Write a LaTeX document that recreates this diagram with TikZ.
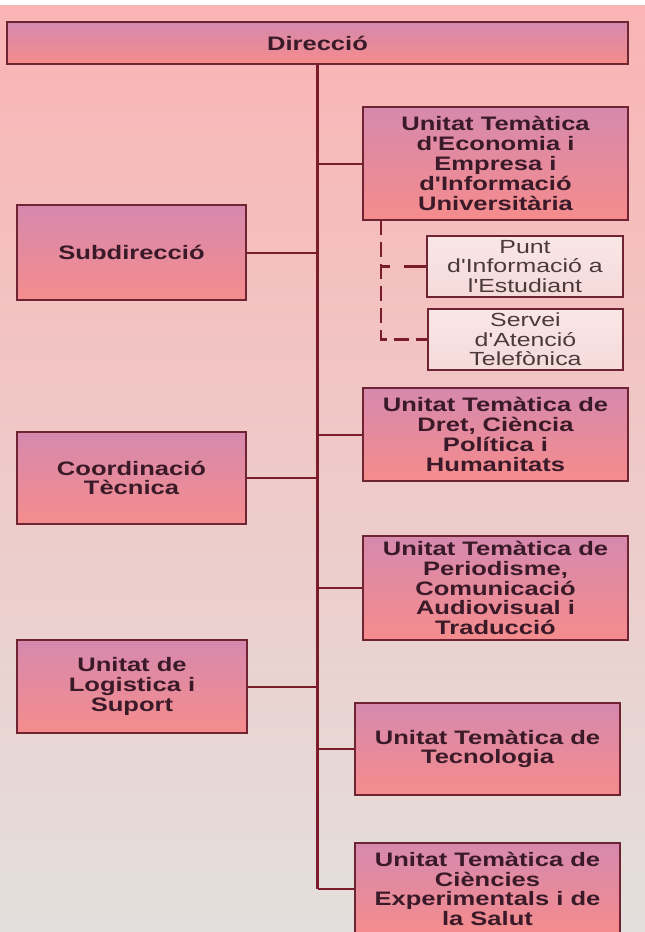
\documentclass[tikz,border=0pt]{standalone}
\usepackage{fontspec}
\setmainfont[FakeStretch=1.31,Ligatures=TeXOff]{Liberation Sans}
\definecolor{bgtop}{HTML}{FAB4B4}
\definecolor{bgmid}{HTML}{F2CBCB}
\definecolor{bgbot}{HTML}{E3DFDC}
\definecolor{boxtop}{HTML}{D689AE}
\definecolor{boxbot}{HTML}{F58C8C}
\definecolor{boxline}{HTML}{6E2433}
\definecolor{linecol}{HTML}{7A1C2A}
\definecolor{txt}{HTML}{3A1A28}
\definecolor{subtxt}{HTML}{4A3A3C}
\definecolor{subtop}{HTML}{FAE6E6}
\definecolor{subbot}{HTML}{F6DADA}
\tikzset{
  orgbox/.style={draw=boxline, line width=1.5pt, top color=boxtop, bottom color=boxbot,
    font=\fontsize{19.5}{19.8}\selectfont\bfseries, text=txt, align=center, inner sep=0pt},
  subbox/.style={draw=boxline, line width=1.5pt, top color=subtop, bottom color=subbot,
    font=\fontsize{19}{19.5}\selectfont, text=subtxt, align=center, inner sep=0pt},
  conn/.style={draw=linecol, line width=2pt},
  trunkline/.style={draw=linecol, line width=3pt},
  dashconn/.style={draw=linecol, line width=2.5pt, dash pattern=on 15pt off 7pt}
}
\begin{document}
\begin{tikzpicture}[x=1pt,y=-1pt]
\useasboundingbox (0,0) rectangle (645,932);
\clip (0,0) rectangle (645,932);
\fill[white] (0,0) rectangle (645,932);
\shade[top color=bgtop, middle color=bgmid, bottom color=bgbot] (0,5) rectangle (645,932);

\node[orgbox, minimum width=621pt, minimum height=42pt] (dir) at (317.5,43) {Direcció};
\node[orgbox, minimum width=265pt, minimum height=113pt] (eco) at (495.5,163.5)
  {Unitat Temàtica\\d'Economia i\\Empresa i\\d'Informació\\Universitària};
\node[orgbox, minimum width=229pt, minimum height=95pt] (sub) at (131.5,252.5) {Subdirecció};
\node[subbox, minimum width=196pt, minimum height=61pt] (punt) at (525,266.5)
  {Punt\\d'Informació a\\l'Estudiant};
\node[subbox, minimum width=195pt, minimum height=61pt] (serv) at (525.5,339.5)
  {Servei\\d'Atenció\\Telefònica};
\node[orgbox, minimum width=265pt, minimum height=93pt] (dret) at (495.5,434.5)
  {Unitat Temàtica de\\Dret, Ciència\\Política i\\Humanitats};
\node[orgbox, minimum width=229pt, minimum height=92pt] (coord) at (131.5,478)
  {Coordinació\\Tècnica};
\node[orgbox, minimum width=265pt, minimum height=104pt] (peri) at (495.5,588)
  {Unitat Temàtica de\\Periodisme,\\Comunicació\\Audiovisual i\\Traducció};
\node[orgbox, minimum width=230pt, minimum height=93pt] (logi) at (132,686.5)
  {Unitat de\\Logistica i\\Suport};
\node[orgbox, minimum width=265pt, minimum height=92pt] (tecn) at (487.5,749)
  {Unitat Temàtica de\\Tecnologia};
\node[orgbox, minimum width=265pt, minimum height=92pt] (cien) at (487.5,889)
  {Unitat Temàtica de\\Ciències\\Experimentals i de\\la Salut};

\coordinate (dtop) at (381,220);
\draw[trunkline] (dir.south) -- (dir.south |- cien.west);
\foreach \n in {eco,dret,peri,tecn,cien}
  \draw[conn] (\n.west) -- (\n.west -| dir.south);
\foreach \n in {sub,coord,logi}
  \draw[conn] (\n.east) -- (\n.east -| dir.south);
\draw[dashconn] (dtop) |- (serv.west);
\draw[dashconn, dash pattern=on 9pt off 14pt on 30pt] (dtop |- punt.west) -- (punt.west);
\end{tikzpicture}
\end{document}
